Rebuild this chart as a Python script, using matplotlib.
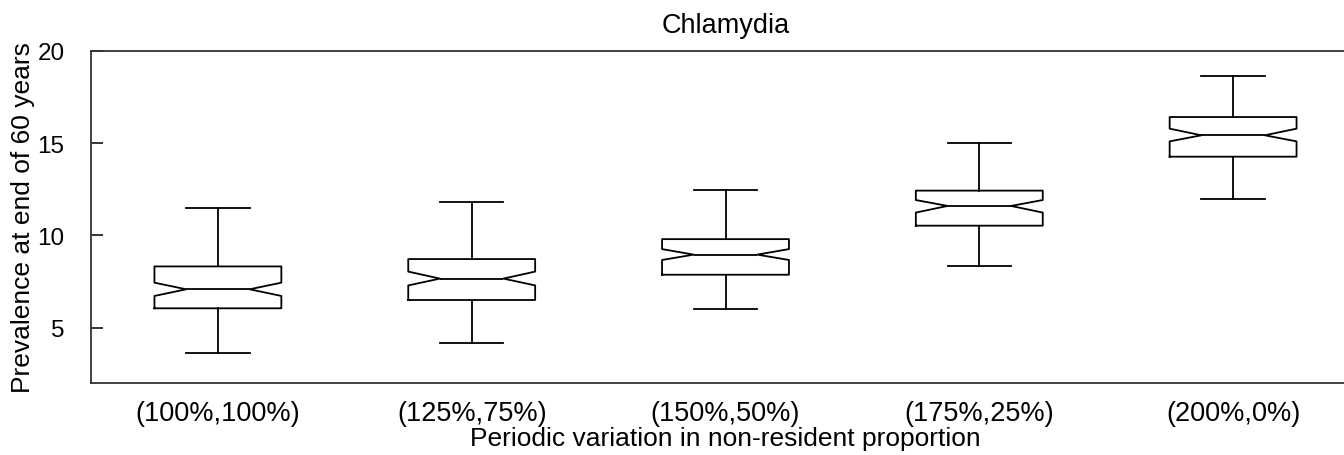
import matplotlib
matplotlib.use("Agg")
import matplotlib.pyplot as plt

plt.rcParams['font.family'] = ['Liberation Sans', 'DejaVu Sans']

categories = ["(100%,100%)", "(125%,75%)", "(150%,50%)", "(175%,25%)", "(200%,0%)"]
whis_low = [3.64, 4.19, 6.03, 8.32, 11.96]
q1 = [6.05, 6.50, 7.87, 10.53, 14.27]
ci_low = [6.72, 7.29, 8.67, 11.24, 15.10]
median = [7.08, 7.66, 8.96, 11.60, 15.43]
ci_high = [7.44, 8.04, 9.26, 11.92, 15.79]
q3 = [8.32, 8.72, 9.80, 12.43, 16.42]
whis_high = [11.47, 11.83, 12.48, 15.01, 18.66]
y_ticks = [5, 10, 15, 20]

stats = []
for i, lab in enumerate(categories):
    stats.append(dict(label=lab, whislo=whis_low[i], q1=q1[i], med=median[i],
                      q3=q3[i], whishi=whis_high[i], cilo=ci_low[i], cihi=ci_high[i],
                      fliers=[]))

fs = 19.5
fig = plt.figure(figsize=(13.44, 4.56), dpi=100)
ax = fig.add_axes([91/1344, 72/456, 1269/1344, 332/456])

lw = 1.3
props = dict(color='black', linewidth=lw)
ax.bxp(stats, positions=range(1, len(categories) + 1), widths=0.5, shownotches=True,
       showfliers=False, boxprops=props, whiskerprops=props, capprops=props,
       medianprops=props, patch_artist=False)

ax.set_xlim(0.5, 5.5)
ax.set_ylim(2, 20)
ax.set_yticks(y_ticks)
ax.set_yticklabels([str(t) for t in y_ticks])
for s in ax.spines.values():
    s.set_linewidth(1.3)
    s.set_color('#333333')
ax.tick_params(axis='y', direction='in', length=8.5, width=1.1, pad=19, labelsize=17.5)
ax.tick_params(axis='x', length=0, pad=12, labelsize=fs)
ax.set_xlabel("Periodic variation in non-resident proportion", fontsize=19, labelpad=0.5)
ax.set_title("Chlamydia", fontsize=fs, pad=13.5)
fig.text(23/1344, 1 - 218/456, "Prevalence at end of 60 years", rotation=90,
         ha='center', va='center', fontsize=19)

fig.savefig("out.png", dpi=100)
